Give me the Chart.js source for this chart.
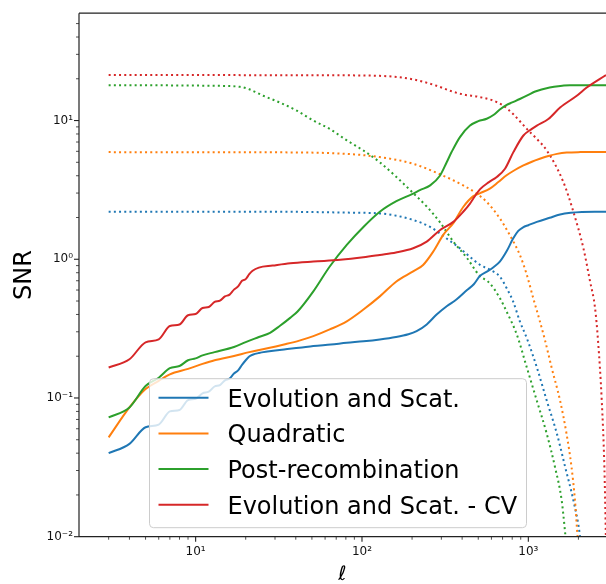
<!DOCTYPE html>
<html>
<head>
<meta charset="utf-8">
<script src="https://cdn.jsdelivr.net/npm/chart.js@4.4.1/dist/chart.umd.min.js"></script>
<style>
  html, body { margin: 0; padding: 0; background: #fff; overflow: hidden; }
  #wrap { width: 606px; height: 584px; }
</style>
</head>
<body>
<div id="wrap"><canvas id="snrChart" width="606" height="584"></canvas></div>
<script>
// multipoles (ell) and SNR
const evoEll = [3,4,5,6,7,8,9,10,11,12,13,14,15,16,17,18,19,20,21,22,24,27,34,42,51,65,81,102,128,160,190,213,245,281,323,371,428,470,513,560,620,674,740,810,870,930,1000,1125,1343,1552,1800,2100,2500,2930];
const evoSnr = [0.040,0.0467,0.0615,0.0643,0.080,0.082,0.0966,0.0987,0.108,0.111,0.121,0.124,0.134,0.138,0.150,0.158,0.173,0.187,0.199,0.205,0.211,0.216,0.224,0.230,0.237,0.243,0.250,0.256,0.264,0.275,0.288,0.303,0.339,0.399,0.458,0.515,0.60,0.66,0.76,0.81,0.88,0.96,1.14,1.41,1.60,1.70,1.76,1.86,1.99,2.10,2.16,2.19,2.20,2.20];

const quadEll = [3,4,5,6,7,9,11,13,17,21,27,34,42,51,64,81,102,128,161,203,233,268,308,354,406,467,513,587,660,740,830,934,1050,1173,1320,1486,1700,2055,2930];
const quadSnr = [0.052,0.0855,0.116,0.133,0.148,0.162,0.176,0.187,0.201,0.214,0.228,0.243,0.259,0.279,0.312,0.357,0.434,0.54,0.692,0.817,0.91,1.136,1.50,1.82,2.38,2.85,3.0,3.23,3.6,4.03,4.4,4.75,5.05,5.3,5.55,5.75,5.88,5.92,5.93];

const postEll = [3,4,5,6,7,8,9,10,11,13,17,20,24,28,32,37,41,51,64,81,102,128,161,200,223,257,294,323,345,388,446,500,562,620,674,737,800,889,1000,1100,1343,1600,1780,2200,2930];
const postSnr = [0.0725,0.0855,0.122,0.140,0.164,0.170,0.187,0.193,0.203,0.214,0.233,0.253,0.275,0.295,0.33,0.378,0.42,0.587,0.887,1.27,1.71,2.2,2.62,2.95,3.15,3.41,4.0,5.0,5.9,7.6,9.2,9.9,10.3,11.0,12.0,12.9,13.5,14.3,15.3,16.2,17.3,17.8,18.0,18.0,18.0];

const cvEll = [3,4,5,6,7,8,9,10,11,12,13,14,15,16,17,18,19,20,21,22,24,29,37,51,74,102,128,160,203,245,294,354,406,446,467,513,580,646,724,813,934,1050,1125,1319,1552,1955,2244,2930];
const cvSnr = [0.166,0.190,0.252,0.265,0.33,0.339,0.395,0.403,0.445,0.453,0.492,0.503,0.54,0.556,0.604,0.637,0.70,0.719,0.78,0.826,0.871,0.90,0.936,0.963,0.99,1.033,1.075,1.12,1.20,1.34,1.62,1.86,2.2,2.52,2.74,3.2,3.6,3.92,4.49,5.92,7.8,8.7,9.19,10.25,12.4,15.1,17.3,21.3];

// dotted curves (same colours)
const evoLimEll = [3,30,81,128,161,203,257,323,388,446,513,587,674,740,810,889,979,1125,1291,1486,1665,1865,2033,2080];
const evoLim = [2.2,2.2,2.17,2.14,2.06,1.92,1.71,1.41,1.2,1.04,0.91,0.84,0.75,0.62,0.497,0.357,0.27,0.166,0.0955,0.0551,0.0318,0.0183,0.0106,0.008];

const quadLimEll = [3,30,81,128,203,294,406,490,562,674,772,889,979,1070,1173,1256,1380,1552,1697,1818,1907,1970,2010];
const quadLim = [5.92,5.9,5.75,5.45,4.88,4.1,3.41,2.97,2.59,1.97,1.5,1.075,0.773,0.525,0.357,0.264,0.166,0.0955,0.0551,0.0318,0.0183,0.0106,0.008];

const postLimEll = [3,13,18.5,21,25.5,32,40.5,51,64,81,102,128,161,203,245,294,354,428,505,587,674,740,852,979,1125,1291,1446,1586,1665,1700];
const postLim = [18.0,17.8,17.5,16.8,15.1,13.5,11.8,10.0,8.7,7.2,6.08,5.0,3.92,3.0,2.4,1.85,1.34,1.02,0.77,0.67,0.525,0.42,0.287,0.166,0.0955,0.0551,0.0318,0.0183,0.0106,0.008];

const cvLimEll = [3,60,128,203,281,354,420,490,617,708,813,979,1125,1291,1623,1865,2143,2350,2518,2625,2763,2865,2922,2935];
const cvLim = [21.3,21.2,21.0,19.8,17.8,16.1,15.3,14.9,13.9,12.8,11.1,8.7,7.37,6.08,3.61,2.2,1.2,0.692,0.445,0.257,0.0955,0.0318,0.0106,0.008];

const labels = ['Evolution and Scat.', 'Quadratic', 'Post-recombination', 'Evolution and Scat. - CV'];
const colors = ['#1f77b4', '#ff7f0e', '#2ca02c', '#d62728'];

const xTickValues = [2,3,4,5,6,7,8,9,10,20,30,40,50,60,70,80,90,100,200,300,400,500,600,700,800,900,1000,2000];
const yTickValues = [0.01,0.02,0.03,0.04,0.05,0.06,0.07,0.08,0.09,0.1,0.2,0.3,0.4,0.5,0.6,0.7,0.8,0.9,1,2,3,4,5,6,7,8,9,10,20,30,40,50];
const xTickLabels = {10: '10¹', 100: '10²', 1000: '10³'};
const yTickLabels = {0.01: '10⁻²', 0.1: '10⁻¹', 1: '10⁰', 10: '10¹'};

Chart.defaults.font.family = "'DejaVu Sans'";

const pts = (ell, snr) => ell.map((l, i) => ({x: l, y: snr[i]}));
const solid = (i, ell, snr) => ({
  label: labels[i], data: pts(ell, snr), borderColor: colors[i], borderWidth: 2,
  pointRadius: 0, cubicInterpolationMode: 'monotone', borderJoinStyle: 'round'
});
const dotted = (i, ell, snr) => ({
  label: labels[i] + ' (dotted)', data: pts(ell, snr), borderColor: colors[i], borderWidth: 2,
  borderDash: [2, 3.2], pointRadius: 0, cubicInterpolationMode: 'monotone'
});

// legend box drawn over the lines, semi-transparent like matplotlib's frame
const legendBox = {
  id: 'legendBox',
  afterDatasetsDraw(chart) {
    const {ctx, chartArea: a} = chart;
    const x0 = a.left + 70.5, y0 = a.top + 365.5;
    ctx.save();
    ctx.beginPath();
    ctx.roundRect(x0, y0, 377, 149, 4);
    ctx.fillStyle = 'rgba(255,255,255,0.8)';
    ctx.fill();
    ctx.strokeStyle = '#cccccc';
    ctx.lineWidth = 1;
    ctx.stroke();
    ctx.font = "24px 'DejaVu Sans'";
    ctx.textBaseline = 'alphabetic';
    labels.forEach((lab, i) => {
      const y = y0 + 19 + i * 35.7;
      ctx.strokeStyle = colors[i];
      ctx.lineWidth = 2;
      ctx.beginPath();
      ctx.moveTo(x0 + 9, y);
      ctx.lineTo(x0 + 59, y);
      ctx.stroke();
      ctx.fillStyle = '#000';
      ctx.fillText(lab, x0 + 78, y + 9);
    });
    ctx.restore();
  }
};

// spines and tick marks (major longer than minor)
const frame = {
  id: 'frame',
  afterDraw(chart) {
    const {ctx, chartArea: a, scales: {x, y}} = chart;
    ctx.save();
    ctx.strokeStyle = '#222';
    ctx.lineWidth = 1.2;
    ctx.beginPath();
    ctx.moveTo(a.left, a.top); ctx.lineTo(a.left, a.bottom);
    ctx.moveTo(a.left, a.bottom); ctx.lineTo(a.right, a.bottom);
    ctx.moveTo(a.left, a.top); ctx.lineTo(a.right, a.top);
    ctx.stroke();
    x.ticks.forEach(t => {
      const px = x.getPixelForValue(t.value);
      if (px <= a.left + 1 || px > a.right) return;
      const major = xTickLabels[t.value] !== undefined;
      ctx.lineWidth = major ? 1.1 : 0.8;
      ctx.beginPath();
      ctx.moveTo(px, a.bottom);
      ctx.lineTo(px, a.bottom + (major ? 5 : 3));
      ctx.stroke();
    });
    y.ticks.forEach(t => {
      const py = y.getPixelForValue(t.value);
      if (py < a.top || py > a.bottom + 1) return;
      const major = yTickLabels[t.value] !== undefined;
      ctx.lineWidth = major ? 1.1 : 0.8;
      ctx.beginPath();
      ctx.moveTo(a.left, py);
      ctx.lineTo(a.left - (major ? 5 : 3), py);
      ctx.stroke();
    });
    ctx.restore();
  }
};

new Chart(document.getElementById('snrChart'), {
  type: 'line',
  data: {
    datasets: [
      solid(3, cvEll, cvSnr),
      solid(2, postEll, postSnr),
      solid(1, quadEll, quadSnr),
      solid(0, evoEll, evoSnr),
      dotted(3, cvLimEll, cvLim),
      dotted(2, postLimEll, postLim),
      dotted(1, quadLimEll, quadLim),
      dotted(0, evoLimEll, evoLim)
    ]
  },
  options: {
    responsive: false,
    animation: false,
    devicePixelRatio: 1,
    layout: {padding: {top: 10, right: 0, left: 0, bottom: 0}},
    plugins: {legend: {display: false}, tooltip: {enabled: false}},
    scales: {
      x: {
        type: 'logarithmic', min: 1.99, max: 2930,
        afterBuildTicks: s => { s.ticks = xTickValues.map(v => ({value: v})); },
        afterFit: s => { s.height = 47.3; },
        grid: {display: false, drawTicks: false},
        border: {display: false},
        ticks: {autoSkip: false, maxRotation: 0, padding: 8, color: '#111', font: {size: 12},
          callback: v => xTickLabels[v] || ''},
        title: {display: true, text: 'ℓ', color: '#000', font: {size: 20, style: 'italic', lineHeight: 1},
          padding: {top: 0, bottom: -1}}
      },
      y: {
        type: 'logarithmic', min: 0.01, max: 59.4,
        afterBuildTicks: s => { s.ticks = yTickValues.map(v => ({value: v})); },
        afterFit: s => { s.width = 79; },
        grid: {display: false, drawTicks: false},
        border: {display: false},
        ticks: {autoSkip: false, padding: 6, color: '#111', font: {size: 12},
          callback: v => yTickLabels[v] || ''},
        title: {display: true, text: 'SNR', color: '#000', font: {size: 24}, padding: {top: 10, bottom: 0}}
      }
    }
  },
  plugins: [legendBox, frame]
});
</script>
</body>
</html>
